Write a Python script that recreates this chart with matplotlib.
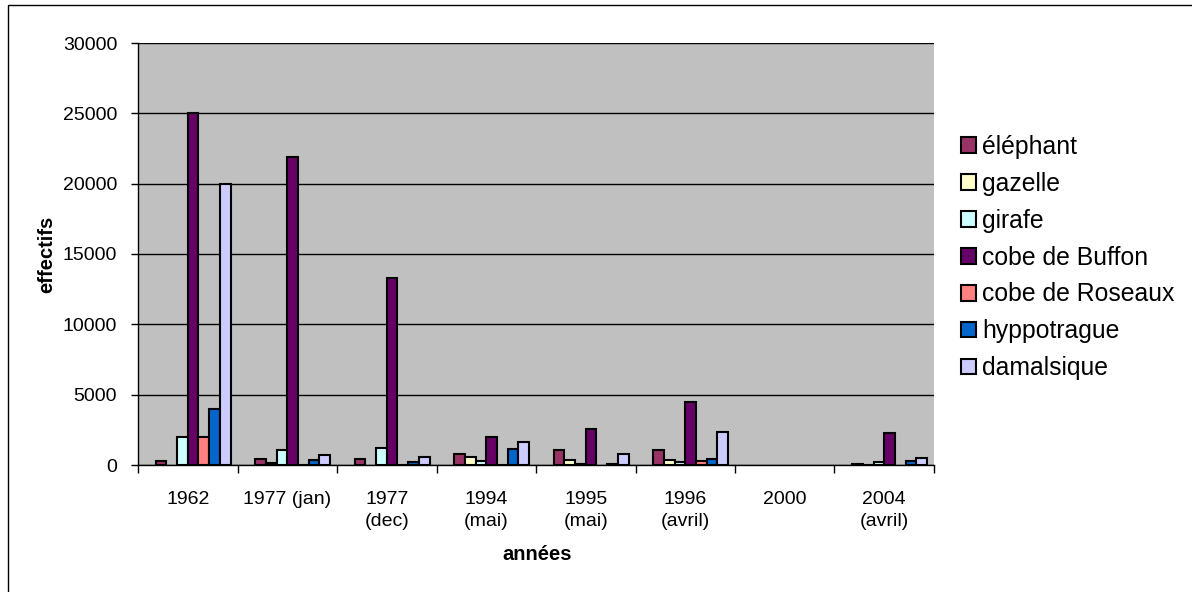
import matplotlib
matplotlib.use("Agg")
import matplotlib.pyplot as plt
import numpy as np
from matplotlib.patches import Rectangle
from matplotlib.ticker import FixedLocator, NullFormatter

categories = ["1962", "1977 (jan)", "1977\n(dec)", "1994\n(mai)", "1995\n(mai)",
              "1996\n(avril)", "2000", "2004\n(avril)"]
series_names = ["éléphant", "gazelle", "girafe", "cobe de Buffon",
                "cobe de Roseaux", "hyppotrague", "damalsique"]
elephant = [250, 450, 450, 780, 1070, 1070, 0, 70]
gazelle = [0, 120, 0, 570, 360, 360, 0, 20]
girafe = [2000, 1050, 1200, 300, 50, 210, 0, 210]
buffon = [25000, 21900, 13300, 2020, 2540, 4500, 0, 2300]
roseaux = [2000, 30, 30, 30, 0, 280, 0, 0]
hippotrague = [4000, 330, 190, 1110, 90, 450, 0, 260]
damalsique = [20000, 730, 570, 1660, 800, 2350, 0, 500]
values = [elephant, gazelle, girafe, buffon, roseaux, hippotrague, damalsique]
colors = ["#993366", "#FFFFCC", "#CCFFFF", "#660066", "#FF8080", "#0066CC", "#CCCCFF"]

plt.rcParams['font.family'] = ['Liberation Sans', 'DejaVu Sans']

W, H = 1192, 592
fig = plt.figure(figsize=(W / 100, H / 100), dpi=100)
ax = fig.add_axes([138 / W, 1 - 465 / H, (934 - 138) / W, (465 - 43) / H])
ax.set_facecolor("#C0C0C0")

x = np.arange(len(categories))
bw = 0.1075
start = -0.322
for i, (name, vals, col) in enumerate(zip(series_names, values, colors)):
    v = np.array(vals, dtype=float)
    v[v == 0] = np.nan
    ax.bar(x + start + i * bw, v, width=bw, align='edge', color=col,
           edgecolor='black', linewidth=1.5, label=name, zorder=3)

ax.set_xlim(-0.5, len(categories) - 0.5)
ax.set_ylim(0, 30000)
ax.set_yticks(np.arange(0, 30001, 5000))
ax.yaxis.grid(True, color='black', linewidth=1, zorder=1)
ax.set_axisbelow(True)

ax.set_xticks(x)
ax.set_xticklabels(categories, fontsize=14, linespacing=1.35)
ax.tick_params(axis='x', which='major', length=0, pad=19)
ax.xaxis.set_minor_locator(FixedLocator(np.arange(-0.5, len(categories), 1.0)))
ax.xaxis.set_minor_formatter(NullFormatter())
ax.tick_params(axis='x', which='minor', length=6, width=1, color='black')
ax.tick_params(axis='y', length=5, width=1, pad=10, labelsize=14)

for s in ['top', 'right']:
    ax.spines[s].set_visible(False)
ax.spines['left'].set_linewidth(1)
ax.spines['bottom'].set_linewidth(1)
ax.spines['left'].set_zorder(4)
ax.spines['bottom'].set_zorder(4)

fig.text(47 / W, 1 - 254 / H, "effectifs", rotation=90, fontsize=14.5,
         fontweight='bold', ha='center', va='center')
fig.text(537 / W, 1 - 555 / H, "années", fontsize=14.5,
         fontweight='bold', ha='center', va='center')

leg = fig.legend(loc='upper left', bbox_to_anchor=(961 / W, 1 - 135 / H),
                 frameon=False, fontsize=17.8, handlelength=0.6,
                 handleheight=0.6, handletextpad=0.25, labelspacing=0.52,
                 borderpad=0, borderaxespad=0)

fig.patches.append(Rectangle((8 / W, -0.1), 1.2, 1 - 5 / H + 0.1,
                             transform=fig.transFigure, fill=False,
                             edgecolor='black', linewidth=1))

fig.savefig("out.png", dpi=100)
